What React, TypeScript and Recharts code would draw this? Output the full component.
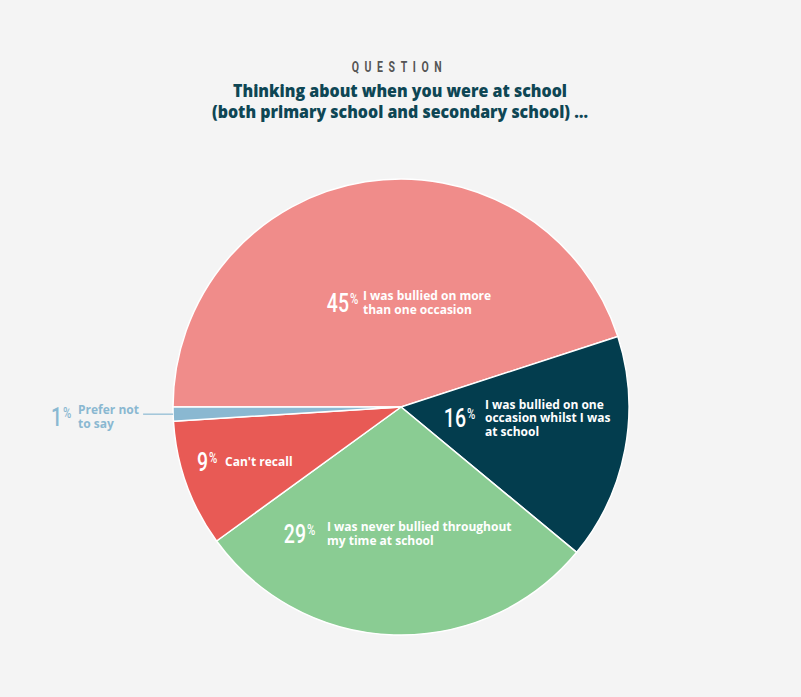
import React from "react";
import { PieChart, Pie, Cell } from "recharts";

const categories = [
  "I was bullied on more than one occasion",
  "I was bullied on one occasion whilst I was at school",
  "I was never bullied throughout my time at school",
  "Can't recall",
  "Prefer not to say",
];
const values = [45, 16, 29, 9, 1];
const labelLines = [
  ["I was bullied on more", "than one occasion"],
  ["I was bullied on one", "occasion whilst I was", "at school"],
  ["I was never bullied throughout", "my time at school"],
  ["Can't recall"],
  ["Prefer not", "to say"],
];
const colors = ["#F08C8A", "#033D4E", "#8ACC93", "#E85A55", "#8AB8D1"];
const labelColors = ["#FFFFFF", "#FFFFFF", "#FFFFFF", "#FFFFFF", "#8AB8D1"];
// label anchor offsets from pie centre (right edge of the big number, vertical centre of block)
const labelOffsets = [
  [-52, -104],
  [65, 11],
  [-95, 127],
  [-193, 55],
  [-339, 10],
];
const textGaps = [14, 19, 21, 17, 16];

const data = categories.map((name, i) => ({ name, value: values[i] }));

const NUM_FONT = "Roboto, 'Liberation Sans', sans-serif";
const TXT_FONT = "'Open Sans', 'Noto Sans', sans-serif";
const RAD = Math.PI / 180;
const SQ = 0.78;

const renderLabel = (props: any) => {
  const { cx, cy, midAngle, outerRadius, index, value } = props;
  const [dx, dy] = labelOffsets[index];
  const x = cx + dx;
  const y = cy + dy;
  const color = labelColors[index];
  const lines = labelLines[index];
  const n = lines.length;
  const lh = 13.5;
  const textX = x + textGaps[index];
  let leader: any = null;
  if (index === 4) {
    const ex = cx + outerRadius * Math.cos(-midAngle * RAD);
    const ey = cy + outerRadius * Math.sin(-midAngle * RAD);
    leader = <line x1={ex} y1={ey} x2={ex - 30} y2={ey} stroke={color} strokeWidth={1.2} />;
  }
  return (
    <g key={`lbl-${index}`}>
      {leader}
      <g transform={`translate(${x},${y + 9}) scale(${SQ},1)`}>
        <text x={0} y={0} textAnchor="end" fill={color} fontFamily={NUM_FONT} fontWeight={500} fontSize={25}>
          {value}
        </text>
      </g>
      <g transform={`translate(${x + 1},${y + 1}) scale(${SQ},1)`}>
        <text x={0} y={0} textAnchor="start" fill={color} fontFamily={NUM_FONT} fontWeight={500} fontSize={14.5}>
          %
        </text>
      </g>
      {lines.map((ln, i) => (
        <text
          key={i}
          x={textX}
          y={y + (i - (n - 1) / 2) * lh + 4}
          textAnchor="start"
          fill={color}
          fontFamily={TXT_FONT}
          fontWeight={700}
          fontSize={12}
        >
          {ln}
        </text>
      ))}
    </g>
  );
};

export default function App() {
  return (
    <div style={{ position: "absolute", left: 0, top: 0, width: 801, height: 697, background: "#F4F4F4" }}>
      <svg width={801} height={140} style={{ position: "absolute", left: 0, top: 0 }}>
        <g transform="translate(399.5,72) scale(0.7,1)">
          <text x={0} y={0} textAnchor="middle" fill="#555555" fontFamily={NUM_FONT} fontWeight={700} fontSize={15} letterSpacing={8}>
            QUESTION
          </text>
        </g>
        <text x={400} y={97} textAnchor="middle" fill="#0E4654" fontFamily={TXT_FONT} fontWeight={800} fontSize={17.5} textLength={334} lengthAdjust="spacingAndGlyphs">
          Thinking about when you were at school
        </text>
        <text x={400} y={118} textAnchor="middle" fill="#0E4654" fontFamily={TXT_FONT} fontWeight={800} fontSize={17.5} textLength={376} lengthAdjust="spacingAndGlyphs">
          (both primary school and secondary school) …
        </text>
      </svg>
      <div style={{ position: "absolute", left: 0, top: 0 }}>
        <PieChart width={801} height={697} margin={{ top: 0, right: 0, bottom: 0, left: 0 }}>
          <Pie
            data={data}
            dataKey="value"
            nameKey="name"
            cx={401}
            cy={407}
            outerRadius={228}
            startAngle={180}
            endAngle={-180}
            stroke="#FFFFFF"
            strokeWidth={1.5}
            label={renderLabel}
            labelLine={false}
            isAnimationActive={false}
          >
            {data.map((d, i) => (
              <Cell key={d.name} fill={colors[i]} />
            ))}
          </Pie>
        </PieChart>
      </div>
    </div>
  );
}
